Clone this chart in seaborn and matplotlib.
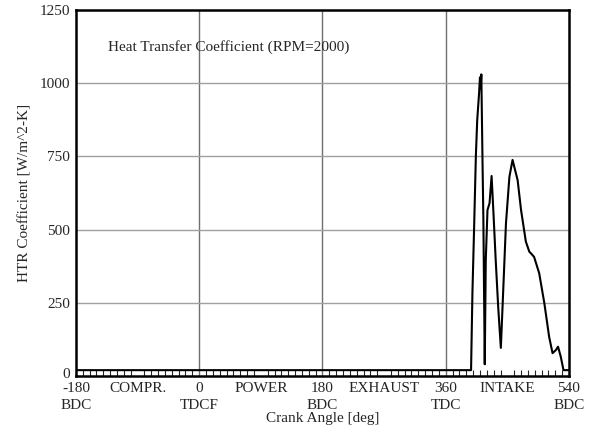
import matplotlib
matplotlib.use("Agg")
import matplotlib.pyplot as plt
import seaborn as sns
import pandas as pd
import numpy as np
from matplotlib.ticker import MultipleLocator
import matplotlib.transforms as mtransforms

crank_angle = [-180, 397, 399, 401.5, 404, 406, 408.7, 410, 411, 412, 413.7, 415, 417,
               418.5, 421, 424, 427, 429.5, 433, 436.6, 440.5, 443, 448, 453, 457.6,
               465, 470, 477, 482, 489, 496.5, 504, 511, 516, 521, 524, 528, 532, 540]
htc = [20, 20, 283, 510, 749, 874, 965, 1020, 980, 1030, 738, 533, 40,
       396, 567, 590, 683, 567, 396, 237, 96, 237, 522, 680, 738,
       669, 567, 459, 425, 407, 351, 249, 134, 78, 89, 100, 66, 20, 20]

tick_pos = [-180, -90, 0, 90, 180, 270, 360, 450, 540]
tick_labels = ["-180\nBDC", "COMPR.", "0\nTDCF", "POWER", "180\nBDC",
               "EXHAUST", "360\nTDC", "INTAKE", "540\nBDC"]
y_ticks = [0, 250, 500, 750, 1000, 1250]

sns.set_style("white")
plt.rcParams['font.family'] = ['Liberation Serif', 'DejaVu Serif']
FS = 11

fig = plt.figure(figsize=(5.93, 4.32), dpi=100)
ax = fig.add_axes([0.128, 0.1296, 0.8315, 0.8474])

df = pd.DataFrame({"angle": crank_angle, "htc": htc})
sns.lineplot(data=df, x="angle", y="htc", ax=ax, color="black", linewidth=1.5,
             estimator=None, sort=False)

ax.set_xlim(-180, 540)
ax.set_ylim(0, 1250)
for gx in [0, 180, 360]:
    ax.axvline(gx, color="#707070", linewidth=1, zorder=0)
for gy in [250, 500, 750, 1000]:
    ax.axhline(gy, color="#a0a0a0", linewidth=1, zorder=0)

ax.set_xticks(tick_pos)
ax.set_xticklabels(tick_labels, fontsize=FS, linespacing=1.4)
ax.xaxis.set_minor_locator(MultipleLocator(10))
ax.tick_params(axis="x", which="major", length=0, pad=4)
ax.tick_params(axis="x", which="minor", direction="in", length=4.5, width=0.8, bottom=True)
ax.set_yticks(y_ticks)
ax.set_yticklabels([str(v) for v in y_ticks], fontsize=FS)
ax.tick_params(axis="y", length=0, pad=4)
# lift the "0" label slightly so it clears the x tick labels
lbl0 = ax.get_yticklabels()[0]
lbl0.set_transform(lbl0.get_transform() + mtransforms.ScaledTranslation(0, 3/100, fig.dpi_scale_trans))

ax.set_xlabel("Crank Angle [deg]", fontsize=FS, labelpad=0)
ax.set_ylabel("HTR Coefficient [W/m^2-K]", fontsize=FS, labelpad=6)

for s in ax.spines.values():
    s.set_color("black")
    s.set_linewidth(1.8)

ax.text(-133, 1124, "Heat Transfer Coefficient (RPM=2000)", fontsize=FS, va="center", ha="left")

fig.savefig("out.png", dpi=100)
